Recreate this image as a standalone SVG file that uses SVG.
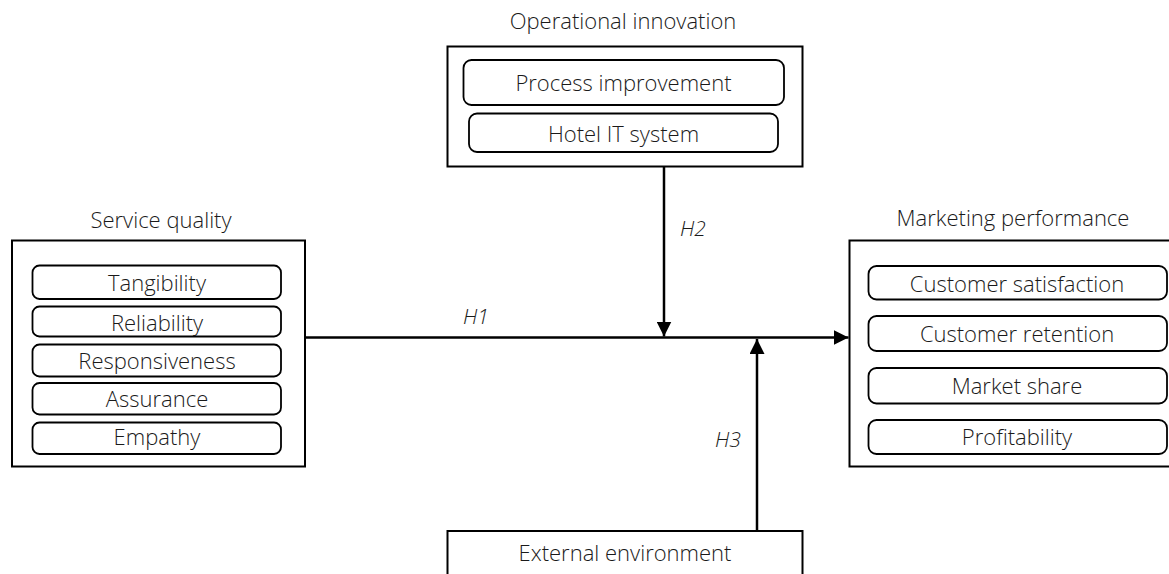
<svg xmlns="http://www.w3.org/2000/svg" width="1169" height="574" viewBox="0 0 1169 574">
  <defs>
    <style>
      .t { font-family: "Open Sans", "Liberation Sans", sans-serif; font-size: 22px; font-weight: 300; fill: #1a1a1a; text-anchor: middle; }
      .h { font-family: "Open Sans", "Liberation Sans", sans-serif; font-size: 21px; font-weight: 300; font-style: italic; fill: #1a1a1a; text-anchor: middle; }
      .outer { fill: #ffffff; stroke: #000000; stroke-width: 2; }
      .inner { fill: #ffffff; stroke: #000000; stroke-width: 1.8; }
      .conn { fill: none; stroke: #000000; stroke-width: 2.5; }
    </style>
    <marker id="arr" markerUnits="userSpaceOnUse" markerWidth="16" markerHeight="15" refX="15" refY="7.5" orient="auto">
      <path d="M0,0 L15,7.5 L0,15 Z" fill="#000000"/>
    </marker>
  </defs>
  <rect width="1169" height="574" fill="#ffffff"/>

  <g id="service-quality">
    <text class="t" x="161" y="228">Service quality</text>
    <rect class="outer" x="12" y="240.5" width="293" height="226"/>
    <rect class="inner" x="32.5" y="265.5" width="248.5" height="33.5" rx="7"/>
    <text class="t" x="157" y="291">Tangibility</text>
    <rect class="inner" x="32.5" y="306.5" width="248.5" height="30" rx="7"/>
    <text class="t" x="157" y="330.5">Reliability</text>
    <rect class="inner" x="32.5" y="344.5" width="248.5" height="32" rx="7"/>
    <text class="t" x="157" y="369">Responsiveness</text>
    <rect class="inner" x="32.5" y="383" width="248.5" height="31.5" rx="7"/>
    <text class="t" x="157" y="406.5">Assurance</text>
    <rect class="inner" x="32.5" y="422.5" width="248.5" height="31.5" rx="7"/>
    <text class="t" x="157" y="445">Empathy</text>
  </g>

  <g id="operational-innovation">
    <text class="t" x="623" y="29">Operational innovation</text>
    <rect class="outer" x="447.5" y="46.5" width="355" height="120"/>
    <rect class="inner" x="463.5" y="60" width="320.5" height="45" rx="8"/>
    <text class="t" x="623.5" y="90.5">Process improvement</text>
    <rect class="inner" x="469" y="113.5" width="309" height="38.5" rx="8"/>
    <text class="t" x="623.5" y="141.5">Hotel IT system</text>
  </g>

  <g id="marketing-performance">
    <text class="t" x="1013" y="226">Marketing performance</text>
    <rect class="outer" x="849.5" y="240.5" width="340" height="226"/>
    <rect class="inner" x="868.5" y="266" width="298.5" height="33.5" rx="8"/>
    <text class="t" x="1017" y="291.5">Customer satisfaction</text>
    <rect class="inner" x="868.5" y="316" width="298.5" height="35" rx="8"/>
    <text class="t" x="1017" y="342">Customer retention</text>
    <rect class="inner" x="868.5" y="368" width="298.5" height="35.5" rx="8"/>
    <text class="t" x="1017" y="394">Market share</text>
    <rect class="inner" x="868.5" y="420" width="298.5" height="34" rx="8"/>
    <text class="t" x="1017" y="445">Profitability</text>
  </g>

  <g id="external-environment">
    <rect class="outer" x="447.5" y="531" width="355" height="60"/>
    <text class="t" x="625" y="560.5">External environment</text>
  </g>

  <g id="connectors">
    <line class="conn" x1="305" y1="337.5" x2="848.5" y2="337.5" marker-end="url(#arr)"/>
    <line class="conn" x1="664" y1="167" x2="664" y2="336.5" marker-end="url(#arr)"/>
    <line class="conn" x1="757" y1="531" x2="757" y2="339" marker-end="url(#arr)"/>
    <text class="h" x="476" y="324">H1</text>
    <text class="h" x="693" y="235.5">H2</text>
    <text class="h" x="728" y="446.5">H3</text>
  </g>
</svg>
